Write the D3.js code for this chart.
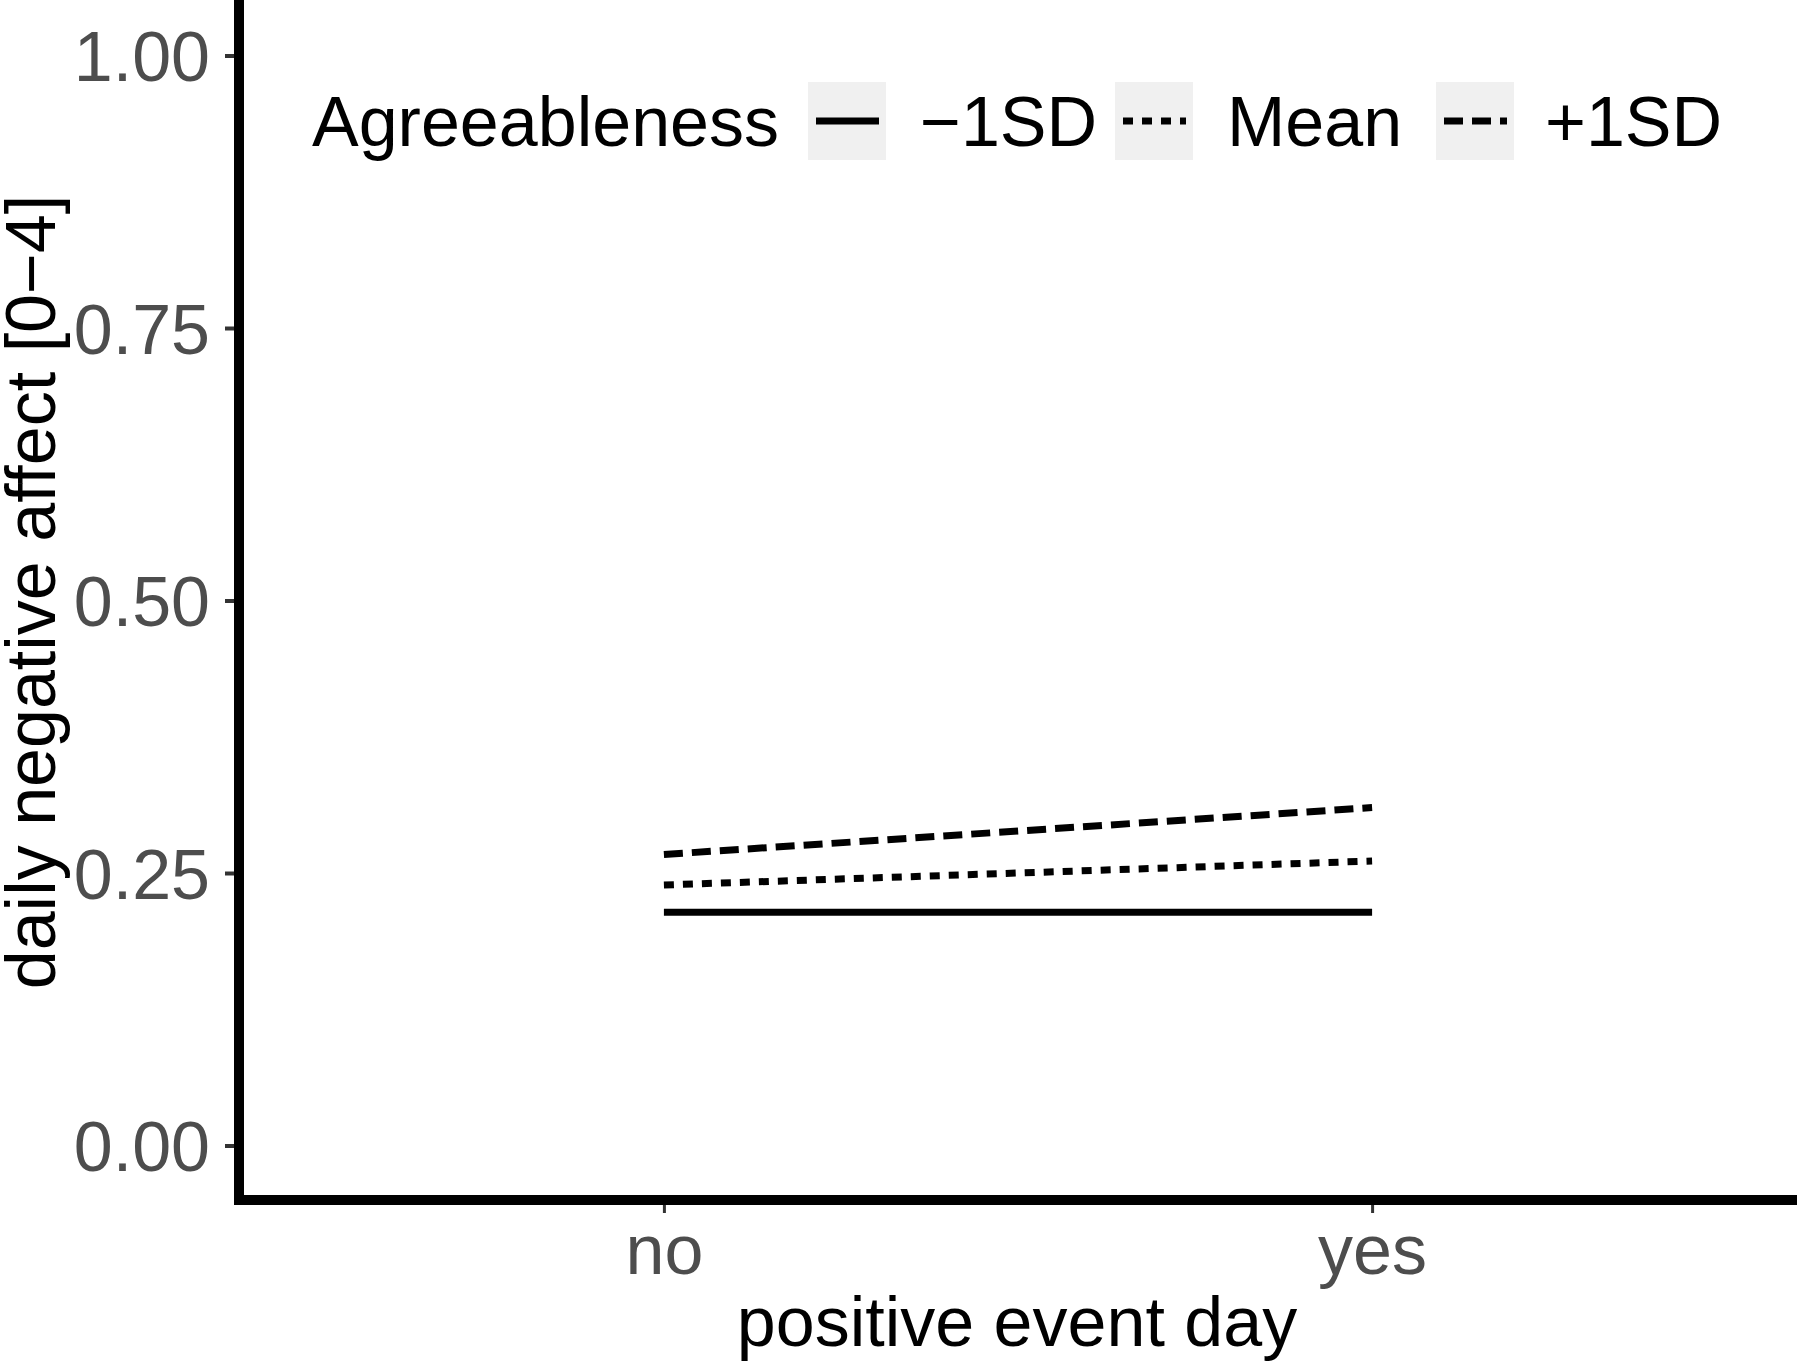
<!DOCTYPE html>
<html>
<head>
<meta charset="utf-8">
<script src="https://cdn.jsdelivr.net/npm/d3@7"></script>
<style>
  body { margin: 0; background: #fff; }
  svg { display: block; font-family: "Liberation Sans", Arial, sans-serif; }
</style>
</head>
<body>
<div id="chart"></div>
<script>
// categories on the x axis
const eventDays = ['no', 'yes'];
// moderator levels (legend order)
const levels = ['−1SD', 'Mean', '+1SD'];
// predicted daily negative affect per level, for no / yes
const lowValues = [0.214, 0.214];
const meanValues = [0.239, 0.261];
const highValues = [0.267, 0.310];
const yTicks = [0, 0.25, 0.5, 0.75, 1];

const series = [
  { level: levels[0], values: lowValues, dash: null },
  { level: levels[1], values: meanValues, dash: '10,9' },
  { level: levels[2], values: highValues, dash: '19,9' },
];

const width = 1800;
const height = 1364;
const fontSize = 70;
const panel = { left: 239, right: 1797, top: 1, bottom: 1200 };

const svg = d3.select('#chart')
  .append('svg')
  .attr('width', width)
  .attr('height', height);

svg.append('rect').attr('width', width).attr('height', height).attr('fill', '#fff');

const xScale = d3.scalePoint()
  .domain(eventDays)
  .range([panel.left, panel.right])
  .padding(0.6);

const yScale = d3.scaleLinear()
  .domain([-0.05, 1.05])
  .range([panel.bottom, panel.top]);

// y axis
const yAxis = svg.append('g')
  .attr('transform', `translate(${panel.left},0)`)
  .call(d3.axisLeft(yScale).tickValues(yTicks).tickFormat(d3.format('.2f')).tickSize(14).tickPadding(15));
yAxis.select('.domain').remove();
yAxis.selectAll('.tick line').attr('stroke', '#333').attr('stroke-width', 4);
yAxis.selectAll('.tick text')
  .attr('fill', '#4d4d4d')
  .attr('font-size', fontSize)
  .attr('font-family', '"Liberation Sans", Arial, sans-serif')
  .attr('dy', '0.36em');

// x axis
const xAxis = svg.append('g')
  .attr('transform', `translate(0,${panel.bottom})`)
  .call(d3.axisBottom(xScale).tickSize(13).tickPadding(11));
xAxis.select('.domain').remove();
xAxis.selectAll('.tick line').attr('stroke', '#333').attr('stroke-width', 3);
xAxis.selectAll('.tick text')
  .attr('fill', '#4d4d4d')
  .attr('font-size', fontSize)
  .attr('font-family', '"Liberation Sans", Arial, sans-serif')
  .attr('dy', '0.71em');

// axis lines
svg.append('line')
  .attr('x1', panel.left).attr('x2', panel.left)
  .attr('y1', 0).attr('y2', panel.bottom + 5)
  .attr('stroke', '#000').attr('stroke-width', 10);
svg.append('line')
  .attr('x1', panel.left - 5).attr('x2', panel.right)
  .attr('y1', panel.bottom).attr('y2', panel.bottom)
  .attr('stroke', '#000').attr('stroke-width', 10);

// lines
const line = d3.line()
  .x((d, i) => xScale(eventDays[i]))
  .y((d) => yScale(d));

svg.append('g')
  .selectAll('path')
  .data(series)
  .join('path')
  .attr('d', (d) => line(d.values))
  .attr('fill', 'none')
  .attr('stroke', '#000')
  .attr('stroke-width', 7)
  .attr('stroke-dasharray', (d) => d.dash);

// axis titles
svg.append('text')
  .attr('x', (panel.left + panel.right) / 2 - 1)
  .attr('y', 1346)
  .attr('text-anchor', 'middle')
  .attr('font-size', fontSize)
  .text('positive event day');

svg.append('text')
  .attr('transform', `translate(55,${592}) rotate(-90)`)
  .attr('text-anchor', 'middle')
  .attr('font-size', fontSize)
  .text('daily negative affect [0−4]');

// legend
const legend = svg.append('g');
legend.append('text')
  .attr('x', 312).attr('y', 146)
  .attr('font-size', fontSize)
  .text('Agreeableness');

const keyX = [808, 1115, 1436];
const labelX = [920, 1227, 1545];

const items = legend.selectAll('g.item')
  .data(series)
  .join('g')
  .attr('class', 'item');

items.append('rect')
  .attr('x', (d, i) => keyX[i]).attr('y', 82)
  .attr('width', 78).attr('height', 78)
  .attr('fill', '#f0f0f0');

items.append('line')
  .attr('x1', (d, i) => keyX[i] + 8).attr('x2', (d, i) => keyX[i] + 71)
  .attr('y1', 121).attr('y2', 121)
  .attr('stroke', '#000').attr('stroke-width', 7)
  .attr('stroke-dasharray', (d) => d.dash);

items.append('text')
  .attr('x', (d, i) => labelX[i]).attr('y', 146)
  .attr('font-size', fontSize)
  .text((d) => d.level);
</script>
</body>
</html>
